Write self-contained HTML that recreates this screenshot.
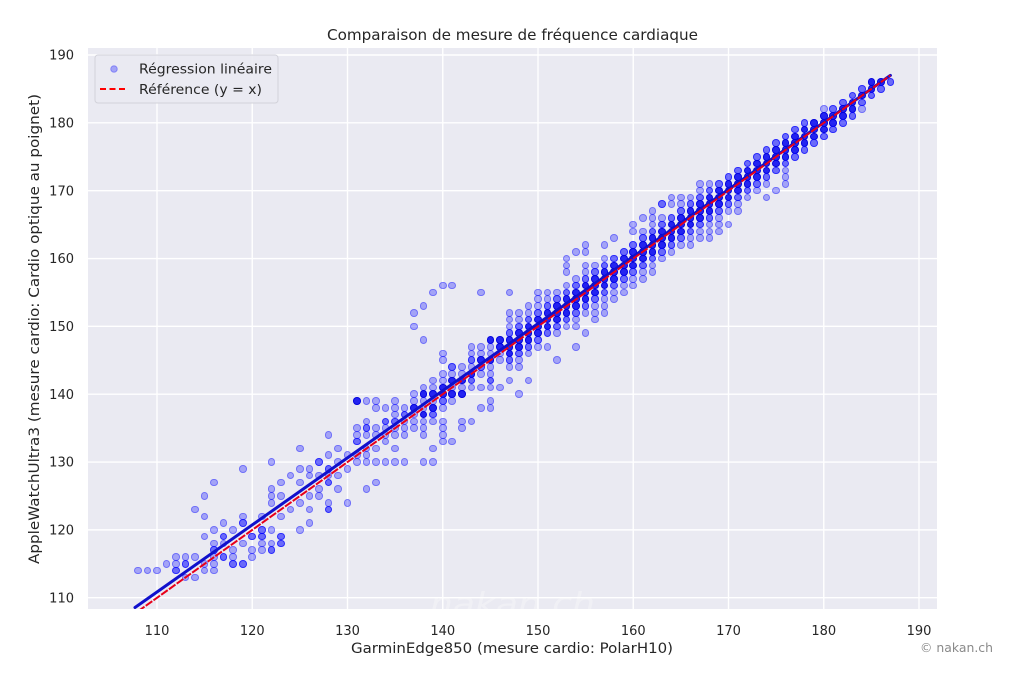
<!DOCTYPE html>
<html><head><meta charset="utf-8"><style>
body{margin:0;background:#fff;width:1020px;height:686px;overflow:hidden;position:relative;font-family:"DejaVu Sans","Liberation Sans",sans-serif}
svg{position:absolute;left:0;top:0}
#p{position:absolute;left:0;top:0;width:1020px;height:686px}
#p i{position:absolute;box-sizing:border-box;width:7.6px;height:7.6px;border-radius:50%;background:rgba(0,0,255,.3);border:1px solid rgba(0,0,255,.32);left:calc(var(--x) * 9.525px - 894.55px);top:calc(1340.16px - var(--y) * 6.784px)}
#p i.d{background:rgba(0,0,255,.55);border-color:rgba(0,0,255,.6)}
#p i.e{background:rgba(0,0,240,.85);border-color:rgba(0,0,220,.88)}
</style></head><body>
<svg width="1020" height="686">
<rect width="1020" height="686" fill="#fff"/>
<rect x="88" y="48" width="849" height="561" fill="#eaeaf2"/>
<g stroke="#fff" stroke-width="1.4">
<line x1="157" y1="48" x2="157" y2="609"/><line x1="252.25" y1="48" x2="252.25" y2="609"/><line x1="347.5" y1="48" x2="347.5" y2="609"/><line x1="442.75" y1="48" x2="442.75" y2="609"/><line x1="538" y1="48" x2="538" y2="609"/><line x1="633.25" y1="48" x2="633.25" y2="609"/><line x1="728.5" y1="48" x2="728.5" y2="609"/><line x1="823.75" y1="48" x2="823.75" y2="609"/><line x1="919" y1="48" x2="919" y2="609"/>
<line x1="88" y1="55" x2="937" y2="55"/><line x1="88" y1="122.84" x2="937" y2="122.84"/><line x1="88" y1="190.68" x2="937" y2="190.68"/><line x1="88" y1="258.52" x2="937" y2="258.52"/><line x1="88" y1="326.36" x2="937" y2="326.36"/><line x1="88" y1="394.2" x2="937" y2="394.2"/><line x1="88" y1="462.04" x2="937" y2="462.04"/><line x1="88" y1="529.88" x2="937" y2="529.88"/><line x1="88" y1="597.72" x2="937" y2="597.72"/>
</g>
<text x="430" y="614" font-size="30" fill="#fff" opacity="0.3" font-style="italic" textLength="165" lengthAdjust="spacingAndGlyphs">nakan.ch</text>
</svg>
<div id="p">
<b style="--x:108"><i style="--y:114"></i></b>
<b style="--x:109"><i style="--y:114"></i></b>
<b style="--x:110"><i style="--y:114"></i></b>
<b style="--x:111"><i style="--y:115"></i></b>
<b style="--x:112"><i style="--y:116"></i><i style="--y:115"></i><i class="d" style="--y:114"></i></b>
<b style="--x:113"><i style="--y:116"></i><i class="d" style="--y:115"></i><i style="--y:113"></i></b>
<b style="--x:114"><i style="--y:123"></i><i style="--y:116"></i><i style="--y:113"></i></b>
<b style="--x:115"><i style="--y:125"></i><i style="--y:122"></i><i style="--y:119"></i><i style="--y:115"></i><i style="--y:114"></i></b>
<b style="--x:116"><i style="--y:127"></i><i style="--y:120"></i><i style="--y:118"></i><i class="d" style="--y:117"></i><i style="--y:116"></i><i style="--y:115"></i><i style="--y:114"></i></b>
<b style="--x:117"><i style="--y:121"></i><i class="d" style="--y:119"></i><i style="--y:118"></i><i class="d" style="--y:116"></i></b>
<b style="--x:118"><i style="--y:120"></i><i style="--y:117"></i><i style="--y:116"></i><i class="d" style="--y:115"></i></b>
<b style="--x:119"><i style="--y:129"></i><i style="--y:122"></i><i class="d" style="--y:121"></i><i style="--y:118"></i><i class="d" style="--y:115"></i></b>
<b style="--x:120"><i class="d" style="--y:119"></i><i style="--y:117"></i><i style="--y:116"></i></b>
<b style="--x:121"><i style="--y:122"></i><i class="d" style="--y:120"></i><i class="d" style="--y:119"></i><i style="--y:118"></i><i style="--y:117"></i></b>
<b style="--x:122"><i style="--y:130"></i><i style="--y:126"></i><i style="--y:125"></i><i style="--y:124"></i><i style="--y:120"></i><i style="--y:118"></i><i class="d" style="--y:117"></i></b>
<b style="--x:123"><i style="--y:127"></i><i style="--y:125"></i><i style="--y:122"></i><i class="d" style="--y:119"></i><i class="d" style="--y:118"></i></b>
<b style="--x:124"><i style="--y:128"></i><i style="--y:123"></i></b>
<b style="--x:125"><i style="--y:132"></i><i style="--y:129"></i><i style="--y:127"></i><i style="--y:124"></i><i style="--y:120"></i></b>
<b style="--x:126"><i style="--y:129"></i><i style="--y:128"></i><i style="--y:125"></i><i style="--y:123"></i><i style="--y:121"></i></b>
<b style="--x:127"><i class="d" style="--y:130"></i><i style="--y:128"></i><i style="--y:126"></i><i style="--y:125"></i></b>
<b style="--x:128"><i style="--y:134"></i><i style="--y:131"></i><i class="d" style="--y:129"></i><i style="--y:128"></i><i class="d" style="--y:127"></i><i style="--y:124"></i><i class="d" style="--y:123"></i></b>
<b style="--x:129"><i style="--y:132"></i><i style="--y:130"></i><i style="--y:128"></i><i style="--y:126"></i></b>
<b style="--x:130"><i style="--y:131"></i><i style="--y:129"></i><i style="--y:124"></i></b>
<b style="--x:131"><i class="e" style="--y:139"></i><i style="--y:135"></i><i style="--y:134"></i><i class="d" style="--y:133"></i><i style="--y:131"></i><i style="--y:130"></i></b>
<b style="--x:132"><i style="--y:139"></i><i style="--y:136"></i><i class="d" style="--y:135"></i><i style="--y:134"></i><i style="--y:132"></i><i style="--y:131"></i><i style="--y:130"></i><i style="--y:126"></i></b>
<b style="--x:133"><i style="--y:139"></i><i style="--y:138"></i><i style="--y:135"></i><i style="--y:134"></i><i style="--y:132"></i><i style="--y:130"></i><i style="--y:127"></i></b>
<b style="--x:134"><i style="--y:138"></i><i class="d" style="--y:136"></i><i style="--y:135"></i><i style="--y:134"></i><i style="--y:133"></i><i style="--y:130"></i></b>
<b style="--x:135"><i style="--y:139"></i><i style="--y:138"></i><i style="--y:137"></i><i class="d" style="--y:136"></i><i style="--y:135"></i><i style="--y:134"></i><i style="--y:132"></i><i style="--y:130"></i></b>
<b style="--x:136"><i style="--y:138"></i><i class="d" style="--y:137"></i><i style="--y:136"></i><i style="--y:135"></i><i style="--y:134"></i><i style="--y:130"></i></b>
<b style="--x:137"><i style="--y:152"></i><i style="--y:150"></i><i style="--y:140"></i><i style="--y:139"></i><i class="e" style="--y:138"></i><i style="--y:137"></i><i style="--y:136"></i><i style="--y:135"></i></b>
<b style="--x:138"><i style="--y:153"></i><i style="--y:148"></i><i style="--y:141"></i><i class="e" style="--y:140"></i><i style="--y:139"></i><i style="--y:138"></i><i class="e" style="--y:137"></i><i style="--y:136"></i><i style="--y:135"></i><i style="--y:134"></i><i style="--y:130"></i></b>
<b style="--x:139"><i style="--y:155"></i><i style="--y:142"></i><i style="--y:141"></i><i class="e" style="--y:140"></i><i style="--y:139"></i><i class="e" style="--y:138"></i><i class="d" style="--y:137"></i><i style="--y:136"></i><i style="--y:132"></i><i style="--y:130"></i></b>
<b style="--x:140"><i style="--y:156"></i><i style="--y:146"></i><i style="--y:145"></i><i style="--y:143"></i><i style="--y:142"></i><i class="e" style="--y:141"></i><i class="e" style="--y:140"></i><i class="d" style="--y:139"></i><i style="--y:138"></i><i style="--y:136"></i><i style="--y:135"></i><i style="--y:134"></i><i style="--y:133"></i></b>
<b style="--x:141"><i style="--y:156"></i><i class="d" style="--y:144"></i><i style="--y:143"></i><i class="e" style="--y:142"></i><i style="--y:141"></i><i class="e" style="--y:140"></i><i style="--y:139"></i><i style="--y:133"></i></b>
<b style="--x:142"><i style="--y:144"></i><i style="--y:143"></i><i class="e" style="--y:142"></i><i style="--y:141"></i><i class="e" style="--y:140"></i><i style="--y:136"></i><i style="--y:135"></i></b>
<b style="--x:143"><i style="--y:147"></i><i style="--y:146"></i><i class="d" style="--y:145"></i><i style="--y:144"></i><i class="e" style="--y:143"></i><i class="d" style="--y:142"></i><i style="--y:141"></i><i style="--y:136"></i></b>
<b style="--x:144"><i style="--y:155"></i><i style="--y:147"></i><i style="--y:146"></i><i class="e" style="--y:145"></i><i class="d" style="--y:144"></i><i style="--y:143"></i><i style="--y:141"></i><i style="--y:138"></i></b>
<b style="--x:145"><i class="e" style="--y:148"></i><i style="--y:147"></i><i style="--y:146"></i><i class="e" style="--y:145"></i><i style="--y:144"></i><i style="--y:143"></i><i class="d" style="--y:142"></i><i style="--y:141"></i><i style="--y:139"></i><i style="--y:138"></i></b>
<b style="--x:146"><i class="e" style="--y:148"></i><i class="e" style="--y:147"></i><i style="--y:146"></i><i style="--y:145"></i><i style="--y:141"></i></b>
<b style="--x:147"><i style="--y:155"></i><i style="--y:152"></i><i style="--y:151"></i><i style="--y:150"></i><i class="d" style="--y:149"></i><i class="e" style="--y:148"></i><i class="e" style="--y:147"></i><i class="e" style="--y:146"></i><i class="d" style="--y:145"></i><i style="--y:144"></i><i style="--y:142"></i></b>
<b style="--x:148"><i style="--y:152"></i><i style="--y:151"></i><i class="d" style="--y:150"></i><i class="e" style="--y:149"></i><i class="e" style="--y:148"></i><i class="e" style="--y:147"></i><i class="d" style="--y:146"></i><i style="--y:145"></i><i style="--y:144"></i><i style="--y:140"></i></b>
<b style="--x:149"><i style="--y:153"></i><i style="--y:152"></i><i class="d" style="--y:151"></i><i class="e" style="--y:150"></i><i class="e" style="--y:149"></i><i class="e" style="--y:148"></i><i class="d" style="--y:147"></i><i style="--y:146"></i><i style="--y:142"></i></b>
<b style="--x:150"><i style="--y:155"></i><i style="--y:154"></i><i style="--y:153"></i><i class="d" style="--y:152"></i><i class="e" style="--y:151"></i><i class="e" style="--y:150"></i><i class="e" style="--y:149"></i><i class="d" style="--y:148"></i><i style="--y:147"></i></b>
<b style="--x:151"><i style="--y:155"></i><i style="--y:154"></i><i class="d" style="--y:153"></i><i class="e" style="--y:152"></i><i class="e" style="--y:151"></i><i class="e" style="--y:150"></i><i class="d" style="--y:149"></i><i style="--y:147"></i></b>
<b style="--x:152"><i style="--y:155"></i><i class="d" style="--y:154"></i><i class="e" style="--y:153"></i><i class="e" style="--y:152"></i><i class="e" style="--y:151"></i><i class="d" style="--y:150"></i><i style="--y:149"></i><i style="--y:145"></i></b>
<b style="--x:153"><i style="--y:160"></i><i style="--y:159"></i><i style="--y:158"></i><i style="--y:156"></i><i class="d" style="--y:155"></i><i class="e" style="--y:154"></i><i class="e" style="--y:153"></i><i class="e" style="--y:152"></i><i class="d" style="--y:151"></i><i style="--y:150"></i></b>
<b style="--x:154"><i style="--y:161"></i><i style="--y:157"></i><i class="d" style="--y:156"></i><i class="e" style="--y:155"></i><i class="e" style="--y:154"></i><i class="e" style="--y:153"></i><i class="d" style="--y:152"></i><i style="--y:151"></i><i style="--y:150"></i><i style="--y:147"></i></b>
<b style="--x:155"><i style="--y:162"></i><i style="--y:161"></i><i style="--y:159"></i><i style="--y:158"></i><i class="d" style="--y:157"></i><i class="e" style="--y:156"></i><i class="e" style="--y:155"></i><i class="e" style="--y:154"></i><i class="d" style="--y:153"></i><i style="--y:152"></i><i style="--y:149"></i></b>
<b style="--x:156"><i style="--y:159"></i><i class="d" style="--y:158"></i><i class="e" style="--y:157"></i><i class="e" style="--y:156"></i><i class="e" style="--y:155"></i><i class="d" style="--y:154"></i><i style="--y:153"></i><i style="--y:152"></i><i style="--y:151"></i></b>
<b style="--x:157"><i style="--y:162"></i><i style="--y:160"></i><i class="d" style="--y:159"></i><i class="e" style="--y:158"></i><i class="e" style="--y:157"></i><i class="e" style="--y:156"></i><i class="d" style="--y:155"></i><i style="--y:154"></i><i style="--y:153"></i><i style="--y:152"></i></b>
<b style="--x:158"><i style="--y:163"></i><i class="d" style="--y:160"></i><i class="e" style="--y:159"></i><i class="e" style="--y:158"></i><i class="e" style="--y:157"></i><i class="d" style="--y:156"></i><i style="--y:155"></i><i style="--y:154"></i></b>
<b style="--x:159"><i class="d" style="--y:161"></i><i class="e" style="--y:160"></i><i class="e" style="--y:159"></i><i class="e" style="--y:158"></i><i class="d" style="--y:157"></i><i style="--y:156"></i><i style="--y:155"></i></b>
<b style="--x:160"><i style="--y:165"></i><i style="--y:164"></i><i class="d" style="--y:162"></i><i class="e" style="--y:161"></i><i class="e" style="--y:160"></i><i class="e" style="--y:159"></i><i class="d" style="--y:158"></i><i style="--y:157"></i><i style="--y:156"></i></b>
<b style="--x:161"><i style="--y:166"></i><i style="--y:164"></i><i class="d" style="--y:163"></i><i class="e" style="--y:162"></i><i class="e" style="--y:161"></i><i class="e" style="--y:160"></i><i class="d" style="--y:159"></i><i style="--y:158"></i><i style="--y:157"></i></b>
<b style="--x:162"><i style="--y:167"></i><i style="--y:166"></i><i style="--y:165"></i><i class="d" style="--y:164"></i><i class="e" style="--y:163"></i><i class="e" style="--y:162"></i><i class="e" style="--y:161"></i><i class="d" style="--y:160"></i><i style="--y:159"></i><i style="--y:158"></i></b>
<b style="--x:163"><i class="d" style="--y:168"></i><i style="--y:166"></i><i class="d" style="--y:165"></i><i class="e" style="--y:164"></i><i class="e" style="--y:163"></i><i class="e" style="--y:162"></i><i class="d" style="--y:161"></i><i style="--y:160"></i></b>
<b style="--x:164"><i style="--y:169"></i><i style="--y:168"></i><i class="d" style="--y:166"></i><i class="e" style="--y:165"></i><i class="e" style="--y:164"></i><i class="e" style="--y:163"></i><i class="d" style="--y:162"></i><i style="--y:161"></i></b>
<b style="--x:165"><i style="--y:169"></i><i style="--y:168"></i><i class="d" style="--y:167"></i><i class="e" style="--y:166"></i><i class="e" style="--y:165"></i><i class="e" style="--y:164"></i><i class="d" style="--y:163"></i><i style="--y:162"></i></b>
<b style="--x:166"><i style="--y:169"></i><i class="d" style="--y:168"></i><i class="e" style="--y:167"></i><i class="e" style="--y:166"></i><i class="e" style="--y:165"></i><i class="d" style="--y:164"></i><i style="--y:163"></i><i style="--y:162"></i></b>
<b style="--x:167"><i style="--y:171"></i><i style="--y:170"></i><i class="d" style="--y:169"></i><i class="e" style="--y:168"></i><i class="e" style="--y:167"></i><i class="e" style="--y:166"></i><i class="d" style="--y:165"></i><i style="--y:164"></i><i style="--y:163"></i></b>
<b style="--x:168"><i style="--y:171"></i><i class="d" style="--y:170"></i><i class="e" style="--y:169"></i><i class="e" style="--y:168"></i><i class="e" style="--y:167"></i><i class="d" style="--y:166"></i><i style="--y:165"></i><i style="--y:164"></i><i style="--y:163"></i></b>
<b style="--x:169"><i class="d" style="--y:171"></i><i class="e" style="--y:170"></i><i class="e" style="--y:169"></i><i class="e" style="--y:168"></i><i class="d" style="--y:167"></i><i style="--y:166"></i><i style="--y:165"></i><i style="--y:164"></i></b>
<b style="--x:170"><i class="d" style="--y:172"></i><i class="e" style="--y:171"></i><i class="e" style="--y:170"></i><i class="e" style="--y:169"></i><i class="d" style="--y:168"></i><i style="--y:167"></i><i style="--y:165"></i></b>
<b style="--x:171"><i class="d" style="--y:173"></i><i class="e" style="--y:172"></i><i class="e" style="--y:171"></i><i class="e" style="--y:170"></i><i class="d" style="--y:169"></i><i style="--y:168"></i><i style="--y:167"></i></b>
<b style="--x:172"><i class="d" style="--y:174"></i><i class="e" style="--y:173"></i><i class="e" style="--y:172"></i><i class="e" style="--y:171"></i><i class="d" style="--y:170"></i><i style="--y:169"></i></b>
<b style="--x:173"><i class="d" style="--y:175"></i><i class="e" style="--y:174"></i><i class="e" style="--y:173"></i><i class="e" style="--y:172"></i><i class="d" style="--y:171"></i><i style="--y:170"></i></b>
<b style="--x:174"><i class="d" style="--y:176"></i><i class="e" style="--y:175"></i><i class="e" style="--y:174"></i><i class="e" style="--y:173"></i><i class="d" style="--y:172"></i><i style="--y:171"></i><i style="--y:169"></i></b>
<b style="--x:175"><i class="d" style="--y:177"></i><i class="e" style="--y:176"></i><i class="e" style="--y:175"></i><i class="e" style="--y:174"></i><i class="d" style="--y:173"></i><i style="--y:170"></i></b>
<b style="--x:176"><i class="d" style="--y:178"></i><i class="e" style="--y:177"></i><i class="e" style="--y:176"></i><i class="e" style="--y:175"></i><i class="d" style="--y:174"></i><i style="--y:173"></i><i style="--y:172"></i><i style="--y:171"></i></b>
<b style="--x:177"><i class="d" style="--y:179"></i><i class="e" style="--y:178"></i><i class="e" style="--y:177"></i><i class="e" style="--y:176"></i><i class="d" style="--y:175"></i></b>
<b style="--x:178"><i class="d" style="--y:180"></i><i class="e" style="--y:179"></i><i class="e" style="--y:178"></i><i class="e" style="--y:177"></i><i class="d" style="--y:176"></i></b>
<b style="--x:179"><i class="e" style="--y:180"></i><i class="e" style="--y:179"></i><i class="e" style="--y:178"></i><i class="d" style="--y:177"></i></b>
<b style="--x:180"><i style="--y:182"></i><i class="e" style="--y:181"></i><i class="e" style="--y:180"></i><i class="e" style="--y:179"></i><i class="d" style="--y:178"></i></b>
<b style="--x:181"><i class="d" style="--y:182"></i><i class="e" style="--y:181"></i><i class="e" style="--y:180"></i><i class="d" style="--y:179"></i></b>
<b style="--x:182"><i class="d" style="--y:183"></i><i class="e" style="--y:182"></i><i class="e" style="--y:181"></i><i class="d" style="--y:180"></i></b>
<b style="--x:183"><i class="d" style="--y:184"></i><i class="e" style="--y:183"></i><i class="e" style="--y:182"></i><i class="d" style="--y:181"></i></b>
<b style="--x:184"><i class="d" style="--y:185"></i><i class="e" style="--y:184"></i><i class="d" style="--y:183"></i><i style="--y:182"></i></b>
<b style="--x:185"><i class="e" style="--y:186"></i><i class="e" style="--y:185"></i><i class="d" style="--y:184"></i></b>
<b style="--x:186"><i class="e" style="--y:186"></i><i class="d" style="--y:185"></i></b>
<b style="--x:187"><i class="d" style="--y:186"></i></b>
</div>
<svg width="1020" height="686">
<defs><clipPath id="c"><rect x="88" y="48" width="849" height="561"/></clipPath></defs>
<g clip-path="url(#c)">
<line x1="135" y1="607.5" x2="890.4" y2="75.4" stroke="#1010cc" stroke-width="3" stroke-linecap="round"/>
<line x1="138" y1="611.3" x2="890.4" y2="75.4" stroke="#e8001a" stroke-width="2" stroke-dasharray="8,1.5"/>
</g>
<rect x="95" y="55" width="183" height="48" rx="3" fill="#eaeaf2" fill-opacity="0.9" stroke="#d2d2da" stroke-width="1"/>
<circle cx="114" cy="69" r="3.3" fill="#0000ff" fill-opacity="0.3" stroke="#0000ff" stroke-opacity="0.3" stroke-width="1"/>
<line x1="100" y1="89" x2="128" y2="89" stroke="#ff0000" stroke-width="2" stroke-dasharray="6,3.5"/>
<g fill="#262626" font-family="DejaVu Sans, Liberation Sans, sans-serif">
<text x="139" y="73.5" font-size="13" textLength="133" lengthAdjust="spacingAndGlyphs">Régression linéaire</text>
<text x="139" y="94" font-size="13" textLength="123" lengthAdjust="spacingAndGlyphs">Référence (y = x)</text>
<text x="327" y="40" font-size="15" textLength="371" lengthAdjust="spacingAndGlyphs">Comparaison de mesure de fréquence cardiaque</text>
<text x="351" y="653" font-size="14.5" textLength="322" lengthAdjust="spacingAndGlyphs">GarminEdge850 (mesure cardio: PolarH10)</text>
<text transform="translate(39,329) rotate(-90)" text-anchor="middle" font-size="14" textLength="470" lengthAdjust="spacingAndGlyphs">AppleWatchUltra3 (mesure cardio: Cardio optique au poignet)</text>
<g font-size="13" text-anchor="end">
<text x="74" y="59.6">190</text><text x="74" y="127.4">180</text><text x="74" y="195.3">170</text><text x="74" y="263.1">160</text><text x="74" y="331">150</text><text x="74" y="398.8">140</text><text x="74" y="466.6">130</text><text x="74" y="534.5">120</text><text x="74" y="602.3">110</text>
</g>
<g font-size="13" text-anchor="middle">
<text x="157" y="635">110</text><text x="252.25" y="635">120</text><text x="347.5" y="635">130</text><text x="442.75" y="635">140</text><text x="538" y="635">150</text><text x="633.25" y="635">160</text><text x="728.5" y="635">170</text><text x="823.75" y="635">180</text><text x="919" y="635">190</text>
</g>
</g>
<text x="920" y="652" font-size="12" fill="#8a8a8a" font-family="DejaVu Sans, Liberation Sans, sans-serif" textLength="73" lengthAdjust="spacingAndGlyphs">© nakan.ch</text>
</svg>
</body></html>
